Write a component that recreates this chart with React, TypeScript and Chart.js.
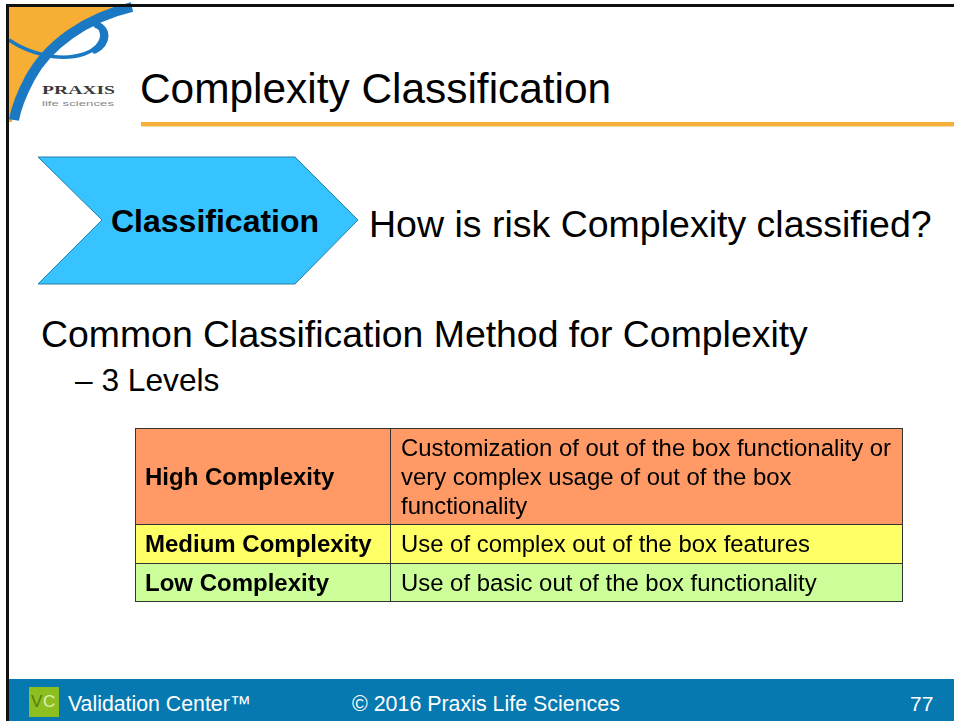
import React, { useEffect, useRef } from "react";
import { Chart, registerables } from "chart.js";

Chart.register(...registerables);

// ---- data ----
const levels = ["High Complexity", "Medium Complexity", "Low Complexity"];
const descriptions: string[][] = [
  ["Customization of out of the box functionality or", "very complex usage of out of the box", "functionality"],
  ["Use of complex out of the box features"],
  ["Use of basic out of the box functionality"],
];
const levelColors = ["#FF9966", "#FFFF66", "#CCFF99"];
const columnShares = [1, 2]; // level column : description column

const titleText = "Complexity Classification";
const arrowText = "Classification";
const questionText = "How is risk Complexity classified?";
const headingText = "Common Classification Method for Complexity";
const bulletText = "\u2013 3 Levels";
const footerLeft = "Validation Center\u2122";
const footerMid = "\u00A9 2016 Praxis Life Sciences";
const footerPage = "77";

// ---- layout ----
const ROW_HEIGHTS = [96, 39, 39];
const TABLE_LEFT = 135;
const TABLE_TOP = 428;
const TABLE_WIDTH = 768;
const FONT = "'Liberation Sans', Arial, Helvetica, sans-serif";

const cellTextPlugin = {
  id: "cellText",
  afterDatasetsDraw(chart: any) {
    const ctx = chart.ctx;
    const rowIndex = chart.options.plugins.cellText.row;
    const labelEl = chart.getDatasetMeta(0).data[0];
    const descEl = chart.getDatasetMeta(1).data[0];
    ctx.save();
    ctx.fillStyle = "#000";
    ctx.textBaseline = "alphabetic";
    ctx.textAlign = "left";
    ctx.font = `bold 24px ${FONT}`;
    const capHalf = 8.6;
    ctx.fillText(levels[rowIndex], Math.min(labelEl.base, labelEl.x) + 10, labelEl.y + capHalf);
    ctx.font = `23.9px ${FONT}`;
    const lines = descriptions[rowIndex];
    const gap = 29;
    const startY = descEl.y - ((lines.length - 1) * gap) / 2;
    lines.forEach((ln, i) => {
      ctx.fillText(ln, Math.min(descEl.base, descEl.x) + 10, startY + i * gap + capHalf);
    });
    ctx.restore();
  },
};

function RowChart({ row }: { row: number }) {
  const ref = useRef<HTMLCanvasElement>(null);
  useEffect(() => {
    if (!ref.current) return;
    const last = row === levels.length - 1;
    const bottom = last ? 1 : 0;
    const chart = new Chart(ref.current, {
      type: "bar",
      data: {
        labels: [levels[row]],
        datasets: [
          {
            data: [columnShares[0]],
            backgroundColor: levelColors[row],
            borderColor: "#333333",
            borderWidth: { top: 1, left: 1, right: 1, bottom },
            borderSkipped: false,
            inflateAmount: 0,
            categoryPercentage: 1,
            barPercentage: 1,
          } as any,
          {
            data: [columnShares[1]],
            backgroundColor: levelColors[row],
            borderColor: "#333333",
            borderWidth: { top: 1, left: 0, right: 1, bottom },
            borderSkipped: false,
            inflateAmount: 0,
            categoryPercentage: 1,
            barPercentage: 1,
          } as any,
        ],
      },
      options: {
        indexAxis: "y",
        animation: false,
        responsive: false,
        maintainAspectRatio: false,
        events: [],
        layout: { padding: 0 },
        plugins: {
          legend: { display: false },
          tooltip: { enabled: false },
          cellText: { row },
        } as any,
        scales: {
          x: { stacked: true, min: 0, max: columnShares[0] + columnShares[1], display: false },
          y: { stacked: true, display: false },
        },
      },
      plugins: [cellTextPlugin],
    });
    return () => chart.destroy();
  }, [row]);
  return (
    <canvas
      ref={ref}
      width={TABLE_WIDTH}
      height={ROW_HEIGHTS[row]}
      style={{ display: "block", width: TABLE_WIDTH, height: ROW_HEIGHTS[row] }}
    />
  );
}

export default function App() {
  return (
    <div
      style={{
        position: "fixed",
        left: 0,
        top: 0,
        width: 954,
        height: 721,
        background: "#fff",
        overflow: "hidden",
      }}
    >
      <svg width={954} height={721} style={{ position: "absolute", left: 0, top: 0 }}>
        {/* logo */}
        <path d="M9,6 L132,6 C 85,18 48,45 30,78 C 21,95 15,108 12,122 L9,122 Z" fill="#F7AE35" />
        <path d="M9,40 C 30,54 60,62 84,54 C 99,49 106,37 99,27" fill="none" stroke="#1B79C3" strokeWidth={3.5} />
        <path d="M97,25 C 108,29 108,43 95,50" fill="none" stroke="#1B79C3" strokeWidth={7} strokeLinecap="round" />
        <path d="M132,7 C 85,18 48,45 30,78 C 21,95 16,108 14,120" fill="none" stroke="#1B79C3" strokeWidth={10} />
        <text x={42} y={94} fontFamily="'Liberation Serif', serif" fontWeight="bold" fontSize={12.5} fill="#3a3a3a" textLength={73} lengthAdjust="spacingAndGlyphs">PRAXIS</text>
        <text x={42} y={106} fontFamily={FONT} fontSize={7.5} fill="#888" textLength={72} lengthAdjust="spacingAndGlyphs">life sciences</text>

        {/* border */}
        <rect x={6} y={4} width={948} height={3} fill="#111" />
        <rect x={6} y={4} width={3} height={717} fill="#111" />

        {/* title */}
        <text x={140} y={103} fontFamily={FONT} fontSize={42.4} fill="#000">{titleText}</text>
        <rect x={141} y={122} width={813} height={4.5} fill="#F5AF3B" />

        {/* arrow */}
        <polygon points="38,157 295,157 358,220 295,284 38,284 102,220" fill="#36C3FF" stroke="#2380A8" strokeWidth={1} />
        <text x={111} y={232} fontFamily={FONT} fontWeight="bold" fontSize={32} fill="#000">{arrowText}</text>
        <text x={369} y={237} fontFamily={FONT} fontSize={37.5} fill="#000">{questionText}</text>

        <text x={41} y={347} fontFamily={FONT} fontSize={37.4} fill="#000">{headingText}</text>
        <text x={75} y={391} fontFamily={FONT} fontSize={31.7} fill="#000">{bulletText}</text>

        {/* footer */}
        <rect x={9} y={679} width={945} height={42} fill="#0679B1" />
        <rect x={29} y={687} width={30} height={30} fill="#8DBF20" />
        <text x={31} y={707} fontFamily={FONT} fontSize={17} fill="#557F0C">V</text>
        <text x={43} y={707} fontFamily={FONT} fontSize={17} fill="#DDEFB5">C</text>
        <text x={68} y={711} fontFamily={FONT} fontSize={21.3} fill="#fff">{footerLeft}</text>
        <text x={352} y={711} fontFamily={FONT} fontSize={21.4} fill="#fff">{footerMid}</text>
        <text x={910} y={711} fontFamily={FONT} fontSize={21} fill="#fff">{footerPage}</text>
      </svg>
      <div style={{ position: "absolute", left: TABLE_LEFT, top: TABLE_TOP, width: TABLE_WIDTH }}>
        {levels.map((_, i) => (
          <RowChart key={i} row={i} />
        ))}
      </div>
    </div>
  );
}
